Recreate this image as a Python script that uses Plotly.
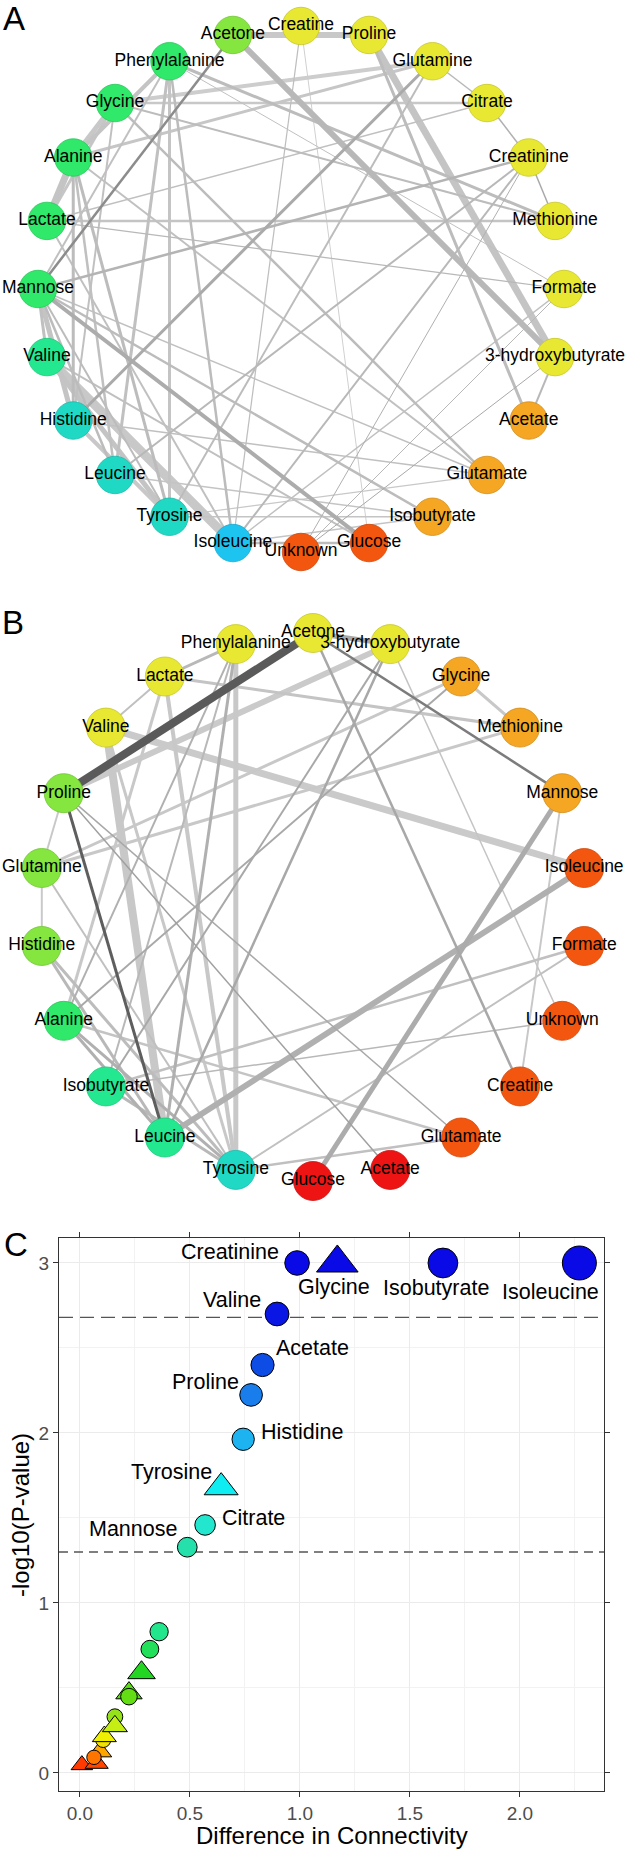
import numpy as np
import plotly.graph_objects as go

W, H = 625, 1850
FONT = "Liberation Sans, Arial, Helvetica, sans-serif"

# ---------------- panel A: network, group 1 ----------------
nodes_a = ["Creatine", "Proline", "Glutamine", "Citrate", "Creatinine", "Methionine",
           "Formate", "3-hydroxybutyrate", "Acetate", "Glutamate", "Isobutyrate", "Glucose",
           "Unknown", "Isoleucine", "Tyrosine", "Leucine", "Histidine", "Valine",
           "Mannose", "Lactate", "Alanine", "Glycine", "Phenylalanine", "Acetone"]
module_a = ["yellow", "yellow", "yellow", "yellow", "yellow", "yellow",
            "yellow", "yellow", "orange", "orange", "orange", "red_orange",
            "red_orange", "sky", "turquoise", "turquoise", "turquoise", "spring",
            "green", "green", "green", "green", "green", "lime"]
# (node, node, strength 0-1, darkness 0-1)
edges_a = [
    ("Acetone", "Proline", 0.62, 0.08), ("Acetone", "3-hydroxybutyrate", 0.62, 0.22),
    ("Proline", "3-hydroxybutyrate", 0.75, 0.12), ("Acetone", "Mannose", 0.19, 0.58),
    ("Creatine", "Isoleucine", 0.03, 0.17), ("Creatine", "Glucose", 0.0, 0.02),
    ("Proline", "Acetate", 0.25, 0.18), ("Glutamine", "Glycine", 0.38, 0.04),
    ("Glutamine", "Alanine", 0.25, 0.10), ("Glutamine", "Citrate", 0.06, 0.22),
    ("Glutamine", "Histidine", 0.25, 0.33), ("Glycine", "Citrate", 0.19, 0.08),
    ("Citrate", "Creatinine", 0.06, 0.28), ("Citrate", "Lactate", 0.06, 0.15),
    ("Creatinine", "Methionine", 0.06, 0.35), ("Creatinine", "Mannose", 0.19, 0.25),
    ("Creatinine", "Leucine", 0.12, 0.22), ("Creatinine", "Unknown", 0.0, 0.28),
    ("Creatinine", "Isoleucine", 0.12, 0.22), ("Lactate", "Methionine", 0.19, 0.12),
    ("Phenylalanine", "Methionine", 0.25, 0.18), ("Glycine", "Methionine", 0.12, 0.18),
    ("Phenylalanine", "Formate", 0.0, 0.15), ("Lactate", "Formate", 0.03, 0.22),
    ("Formate", "Unknown", 0.0, 0.22), ("3-hydroxybutyrate", "Unknown", 0.0, 0.35),
    ("3-hydroxybutyrate", "Acetate", 0.12, 0.22), ("Mannose", "Glucose", 0.38, 0.32),
    ("Mannose", "Isobutyrate", 0.19, 0.18), ("Mannose", "Glutamate", 0.06, 0.15),
    ("Glycine", "Glutamate", 0.19, 0.18), ("Histidine", "Glutamate", 0.06, 0.15),
    ("Isoleucine", "Glucose", 0.19, 0.18), ("Isoleucine", "Isobutyrate", 0.06, 0.12),
    ("Tyrosine", "Isobutyrate", 0.06, 0.12), ("Tyrosine", "Glutamate", 0.03, 0.08),
    ("Valine", "Isoleucine", 1.0, 0.08), ("Valine", "Tyrosine", 0.5, 0.12),
    ("Mannose", "Histidine", 0.5, 0.12), ("Mannose", "Valine", 0.25, 0.15),
    ("Lactate", "Alanine", 0.75, 0.12), ("Alanine", "Glycine", 0.5, 0.08),
    ("Phenylalanine", "Tyrosine", 0.25, 0.12), ("Phenylalanine", "Leucine", 0.25, 0.15),
    ("Phenylalanine", "Isoleucine", 0.19, 0.18), ("Phenylalanine", "Mannose", 0.12, 0.15),
    ("Alanine", "Histidine", 0.25, 0.18), ("Alanine", "Leucine", 0.19, 0.15),
    ("Alanine", "Tyrosine", 0.25, 0.18), ("Alanine", "Glutamate", 0.12, 0.15),
    ("Glycine", "Histidine", 0.12, 0.15), ("Lactate", "Isoleucine", 0.12, 0.15),
    ("Mannose", "Tyrosine", 0.12, 0.18), ("Mannose", "Leucine", 0.19, 0.18),
    ("Valine", "Glucose", 0.12, 0.15), ("Glutamine", "Tyrosine", 0.12, 0.18),
    ("Isoleucine", "Formate", 0.06, 0.15), ("Leucine", "Isobutyrate", 0.06, 0.12),
    ("Histidine", "Tyrosine", 0.38, 0.08), ("Alanine", "Phenylalanine", 0.38, 0.12),
    ("Lactate", "Glycine", 0.25, 0.10),
]

# ---------------- panel B: network, group 2 ----------------
nodes_b = ["Acetone", "3-hydroxybutyrate", "Glycine", "Methionine", "Mannose", "Isoleucine",
           "Formate", "Unknown", "Creatine", "Glutamate", "Acetate", "Glucose",
           "Tyrosine", "Leucine", "Isobutyrate", "Alanine", "Histidine", "Glutamine",
           "Proline", "Valine", "Lactate", "Phenylalanine"]
module_b = ["yellow", "yellow", "orange", "orange", "orange", "red_orange",
            "red_orange", "red_orange", "red_orange", "red_orange", "red", "red",
            "turquoise", "spring", "spring", "green", "lime", "lime",
            "lime", "yellow", "yellow", "yellow"]
edges_b = [
    ("Acetone", "Proline", 0.88, 1.0), ("Acetone", "3-hydroxybutyrate", 0.5, 0.35),
    ("Acetone", "Mannose", 0.19, 0.72), ("Acetone", "Creatine", 0.19, 0.35),
    ("Lactate", "Phenylalanine", 0.25, 0.22), ("Phenylalanine", "Tyrosine", 0.5, 0.08),
    ("Phenylalanine", "Leucine", 0.25, 0.28), ("Phenylalanine", "Isobutyrate", 0.12, 0.22),
    ("Phenylalanine", "Alanine", 0.12, 0.28), ("3-hydroxybutyrate", "Proline", 0.62, 0.07),
    ("3-hydroxybutyrate", "Unknown", 0.06, 0.12), ("3-hydroxybutyrate", "Leucine", 0.19, 0.35),
    ("3-hydroxybutyrate", "Isobutyrate", 0.12, 0.35), ("Glycine", "Methionine", 0.25, 0.08),
    ("Glycine", "Glutamine", 0.25, 0.08), ("Glycine", "Alanine", 0.12, 0.35),
    ("Lactate", "Methionine", 0.25, 0.12), ("Methionine", "Glutamine", 0.25, 0.08),
    ("Valine", "Isoleucine", 0.75, 0.07), ("Valine", "Leucine", 0.88, 0.08),
    ("Proline", "Leucine", 0.25, 0.97), ("Proline", "Acetate", 0.06, 0.42),
    ("Proline", "Glutamate", 0.06, 0.35), ("Mannose", "Glucose", 0.5, 0.32),
    ("Mannose", "Creatine", 0.12, 0.08), ("Isoleucine", "Leucine", 0.62, 0.28),
    ("Formate", "Isobutyrate", 0.19, 0.15), ("Formate", "Tyrosine", 0.12, 0.15),
    ("Unknown", "Isobutyrate", 0.06, 0.22), ("Glutamate", "Tyrosine", 0.19, 0.15),
    ("Glutamate", "Alanine", 0.19, 0.12), ("Lactate", "Tyrosine", 0.38, 0.08),
    ("Lactate", "Alanine", 0.25, 0.08), ("Histidine", "Tyrosine", 0.25, 0.18),
    ("Alanine", "Tyrosine", 0.25, 0.28), ("Isobutyrate", "Tyrosine", 0.25, 0.22),
    ("Glutamine", "Histidine", 0.12, 0.08), ("Glutamine", "Tyrosine", 0.12, 0.15),
    ("Histidine", "Leucine", 0.25, 0.22), ("Alanine", "Leucine", 0.25, 0.28),
    ("Proline", "Glutamine", 0.12, 0.08), ("Valine", "Lactate", 0.12, 0.15),
    ("Valine", "Tyrosine", 0.25, 0.08),
]

# ---------------- panel C: difference in connectivity ----------------
label_c = ["", "", "", "", "", "", "", "", "", "", "", "", "",
           "Mannose", "Citrate", "Tyrosine", "Histidine", "Proline", "Acetate",
           "Valine", "Creatinine", "Glycine", "Isobutyrate", "Isoleucine"]
diff_c = [0.009, 0.076, 0.091, 0.064, 0.106, 0.111, 0.159, 0.159, 0.223, 0.223, 0.280, 0.318,
          0.360, 0.488, 0.569, 0.642, 0.742, 0.778, 0.830, 0.896, 0.987, 1.170, 1.650, 2.270]
logp_c = [0.047, 0.057, 0.125, 0.092, 0.194, 0.215, 0.331, 0.275, 0.470, 0.449, 0.590, 0.728,
          0.831, 1.328, 1.459, 1.680, 1.963, 2.224, 2.400, 2.700, 3.000, 3.000, 3.000, 3.000]
shape_c = ["tri", "tri", "tri", "circ", "circ", "tri", "circ", "tri", "tri", "circ", "tri", "circ",
           "circ", "circ", "circ", "tri", "circ", "circ", "circ", "circ", "circ", "tri", "circ", "circ"]
thresholds_c = [2.68, 1.30]
xticks_c = [0.0, 0.5, 1.0, 1.5, 2.0]
yticks_c = [0, 1, 2, 3]

# styles
PALETTE = {"yellow": "#E8E832", "orange": "#F5A623", "red_orange": "#F3560F", "red": "#EE1414",
           "sky": "#1EC4F0", "turquoise": "#1FD9C5", "spring": "#24E890", "green": "#30E86A",
           "lime": "#84E63E"}
COLOR_STOPS = [(0.0, "#FF0000"), (0.06, "#FF4A00"), (0.09, "#FF7200"), (0.125, "#FFA600"),
               (0.21, "#F0F000"), (0.275, "#C4EE14"), (0.33, "#96E21A"), (0.46, "#5EDE14"),
               (0.59, "#22D622"), (0.73, "#22E05A"), (0.83, "#22E68C"), (1.33, "#26E0AC"),
               (1.46, "#22E6CE"), (1.68, "#0EEEF2"), (1.96, "#1CB4F0"), (2.22, "#1A7EEC"),
               (2.40, "#0E4CE6"), (2.70, "#0A16E4"), (3.00, "#0A0AE6")]
LABEL_OFFSETS = {"Creatinine": (-67, -11), "Glycine": (-3, 24), "Isobutyrate": (-7, 25),
                 "Isoleucine": (-29, 29), "Valine": (-45, -14), "Acetate": (50, -17),
                 "Proline": (-46, -13), "Histidine": (59, -7), "Tyrosine": (-50, -15),
                 "Citrate": (48, -7), "Mannose": (-54, -18)}


def darker(hex_color, f=0.86):
    r, g, b = (int(hex_color[i:i + 2], 16) for i in (1, 3, 5))
    return f"rgb({int(r * f)},{int(g * f)},{int(b * f)})"


def circle_positions(names):
    n = len(names)
    ang = np.deg2rad(90 - 360.0 * np.arange(n) / n)
    return {nm: (np.cos(a), np.sin(a)) for nm, a in zip(names, ang)}


fig = go.Figure()


def add_network(names, modules, edges, xa, ya, node_size):
    pos = circle_positions(names)
    for a, b, s, d in sorted(edges, key=lambda e: e[3]):
        g = int(round(210 - 120 * d))
        fig.add_trace(go.Scatter(
            x=[pos[a][0], pos[b][0]], y=[pos[a][1], pos[b][1]], mode="lines",
            line=dict(color=f"rgb({g},{g},{g})", width=1 + 8 * s),
            xaxis=xa, yaxis=ya, hoverinfo="skip", showlegend=False))
    fills = [PALETTE[m] for m in modules]
    fig.add_trace(go.Scatter(
        x=[pos[n][0] for n in names], y=[pos[n][1] for n in names],
        mode="markers+text", text=names, textposition="middle center",
        textfont=dict(family=FONT, size=17.5, color="black"),
        marker=dict(size=node_size, color=fills, opacity=1,
                    line=dict(color=[darker(c) for c in fills], width=0.8)),
        cliponaxis=False, xaxis=xa, yaxis=ya, hoverinfo="text", showlegend=False))


add_network(nodes_a, module_a, edges_a, "x", "y", 37.5)
add_network(nodes_b, module_b, edges_b, "x2", "y2", 39)

# panel C
xr_c = [-0.095, 2.382]
yr_c = [-0.106, 3.147]
for t, dash in zip(thresholds_c, ["14px,7px", "9px,6px"]):
    fig.add_trace(go.Scatter(x=xr_c, y=[t, t], mode="lines", xaxis="x3", yaxis="y3",
                             line=dict(color="#555555", width=1.4, dash=dash),
                             hoverinfo="skip", showlegend=False))

diam = np.sqrt(180 + 430 * np.array(diff_c))
sizes = [d * 1.38 if s == "tri" else d for d, s in zip(diam, shape_c)]
symbols = ["triangle-up" if s == "tri" else "circle" for s in shape_c]
colorscale = [[v / 3.0, c] for v, c in COLOR_STOPS]
fig.add_trace(go.Scatter(
    x=diff_c, y=logp_c, mode="markers", xaxis="x3", yaxis="y3",
    marker=dict(symbol=symbols, size=sizes, color=logp_c, colorscale=colorscale, opacity=1,
                cmin=0, cmax=3, showscale=False, line=dict(color="black", width=1)),
    text=label_c, hoverinfo="x+y+text", showlegend=False))

annotations = []
for lab, x, y in zip(label_c, diff_c, logp_c):
    if not lab:
        continue
    dx, dy = LABEL_OFFSETS[lab]
    annotations.append(dict(x=x, y=y, xref="x3", yref="y3", text=lab, showarrow=False,
                            xshift=dx, yshift=-dy,
                            font=dict(family=FONT, size=21.5, color="black")))

for letter, px, py in [("A", 14, 18), ("B", 13, 622), ("C", 16, 1244)]:
    annotations.append(dict(x=px / W, y=1 - py / H, xref="paper", yref="paper", text=letter,
                            showarrow=False, xanchor="center", yanchor="middle",
                            font=dict(family=FONT, size=33, color="black")))

# axis titles of panel C
annotations.append(dict(x=331.5 / W, y=1 - 1835 / H, xref="paper", yref="paper",
                        text="Difference in Connectivity", showarrow=False,
                        xanchor="center", yanchor="middle",
                        font=dict(family=FONT, size=24, color="black")))
annotations.append(dict(x=20 / W, y=1 - 1515 / H, xref="paper", yref="paper",
                        text="-log10(P-value)", showarrow=False, textangle=-90,
                        xanchor="center", yanchor="middle",
                        font=dict(family=FONT, size=24, color="black")))


def net_axes(cx, cy, r, top, bottom):
    xa = dict(domain=[0, 1], range=[-cx / r, (W - cx) / r], visible=False, fixedrange=True)
    ya = dict(domain=[1 - bottom / H, 1 - top / H], range=[-(bottom - cy) / r, (cy - top) / r],
              visible=False, fixedrange=True)
    return xa, ya


xa_a, ya_a = net_axes(301, 289, 263, 0, 578)
xa_b, ya_b = net_axes(313, 907, 274, 578, 1222)
xa_b["anchor"] = "y2"
ya_b["anchor"] = "x2"

axis_common = dict(showline=True, mirror="ticks", linecolor="#333333", linewidth=1.2,
                   ticks="outside", ticklen=5, tickwidth=1.1, tickcolor="#333333",
                   zeroline=False, showgrid=True, gridcolor="#EBEBEB", gridwidth=1.4,
                   tickfont=dict(family=FONT, size=19, color="#4D4D4D"), fixedrange=True)

fig.update_layout(
    width=W, height=H, autosize=False,
    margin=dict(l=0, r=0, t=0, b=0),
    paper_bgcolor="white", plot_bgcolor="white",
    font=dict(family=FONT, color="black"),
    xaxis=xa_a, yaxis=ya_a, xaxis2=xa_b, yaxis2=ya_b,
    xaxis3=dict(domain=[59 / W, 604 / W], anchor="y3", range=xr_c,
                tickvals=xticks_c, ticktext=[f"{v:.1f}" for v in xticks_c],
                minor=dict(dtick=0.25, tick0=0, showgrid=True, gridcolor="#F2F2F2", gridwidth=0.8),
                **axis_common),
    yaxis3=dict(domain=[1 - 1791 / H, 1 - 1238 / H], anchor="x3", range=yr_c,
                tickvals=yticks_c,
                minor=dict(dtick=0.5, tick0=0, showgrid=True, gridcolor="#F2F2F2", gridwidth=0.8),
                **axis_common),
    annotations=annotations,
    showlegend=False,
)

# the page body has a default 8px margin; drop it so the figure sits at the window origin
fig.write_html("out.html", config={"displayModeBar": False},
               post_script="document.body.style.margin='0px';")
